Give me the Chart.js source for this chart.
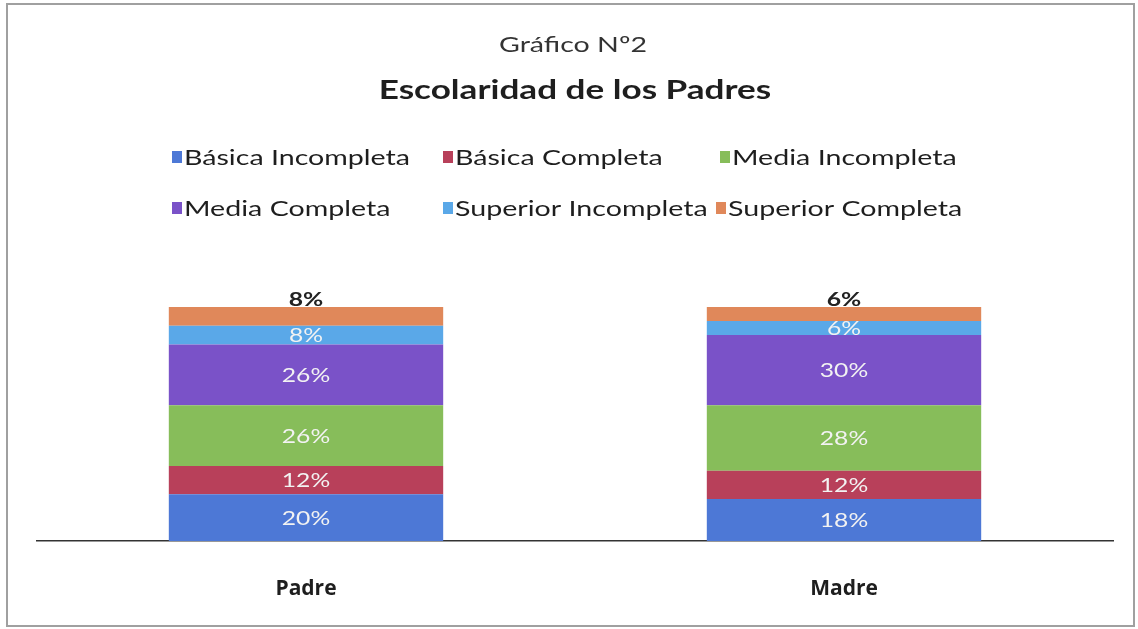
<!DOCTYPE html>
<html>
<head>
<meta charset="utf-8">
<script src="https://cdn.jsdelivr.net/npm/chart.js@4.4.1/dist/chart.umd.min.js"></script>
<style>
html,body{margin:0;padding:0;background:#fff;}
#wrap{width:1138px;height:629px;position:relative;}
</style>
</head>
<body>
<div id="wrap"><canvas id="c" width="1138" height="629"></canvas></div>
<script>
const categories = ['Padre', 'Madre'];
const seriesNames = ['Básica Incompleta', 'Básica Completa', 'Media Incompleta', 'Media Completa', 'Superior Incompleta', 'Superior Completa'];
const basicaIncompleta = [20, 18];
const basicaCompleta = [12, 12];
const mediaIncompleta = [26, 28];
const mediaCompleta = [26, 30];
const superiorIncompleta = [8, 6];
const superiorCompleta = [8, 6];
const seriesColors = ['#4d78d6', '#b8405a', '#87bd5a', '#7a52c8', '#5aa8e8', '#e0885a'];
const seriesValues = [basicaIncompleta, basicaCompleta, mediaIncompleta, mediaCompleta, superiorIncompleta, superiorCompleta];
const titleText = 'Gráfico Nº2';
const subtitleText = 'Escolaridad de los Padres';

const FONT = 'Lato, "Open Sans", sans-serif';
const SX = 1.3;

function stretchedText(ctx, text, x, y, align) {
  ctx.save();
  ctx.translate(x, y);
  ctx.scale(SX, 1);
  ctx.textAlign = align;
  ctx.textBaseline = 'middle';
  ctx.fillText(text, 0, 0);
  ctx.restore();
}

const frame = {
  id: 'frame',
  beforeDraw(chart) {
    const ctx = chart.ctx;
    ctx.save();
    ctx.fillStyle = '#fff';
    ctx.fillRect(0, 0, chart.width, chart.height);
    ctx.strokeStyle = '#a0a0a0';
    ctx.lineWidth = 2;
    ctx.strokeRect(7, 4, 1127, 622);
    ctx.restore();
  }
};

const headerAndLegend = {
  id: 'headerAndLegend',
  afterDraw(chart) {
    const ctx = chart.ctx;
    const cx = (chart.chartArea.left + chart.chartArea.right) / 2;
    ctx.save();
    ctx.fillStyle = '#333';
    ctx.font = '22px ' + FONT;
    stretchedText(ctx, titleText, cx - 2, 45, 'center');
    ctx.fillStyle = '#1e1e1e';
    ctx.font = 'bold 27px ' + FONT;
    stretchedText(ctx, subtitleText, cx, 90, 'center');

    const cols = [172, 443, 720, 172, 443, 716];
    const rows = [157, 157, 157, 208, 208, 208];
    ctx.font = '22px ' + FONT;
    chart.data.datasets.forEach((ds, i) => {
      const x = cols[i], y = rows[i];
      ctx.fillStyle = ds.backgroundColor;
      ctx.fillRect(x, y - 6, 10, 12);
      ctx.fillStyle = '#1e1e1e';
      stretchedText(ctx, ds.label, x + 12, y + 1, 'left');
    });
    ctx.restore();
  }
};

const barLabels = {
  id: 'barLabels',
  afterDatasetsDraw(chart) {
    const ctx = chart.ctx;
    ctx.save();
    const n = chart.data.datasets.length;
    chart.data.datasets.forEach((ds, di) => {
      const meta = chart.getDatasetMeta(di);
      meta.data.forEach((bar, i) => {
        const txt = ds.data[i] + '%';
        if (di === n - 1) {
          ctx.font = 'bold 19px ' + FONT;
          ctx.fillStyle = '#222';
          stretchedText(ctx, txt, bar.x, bar.y - 7, 'center');
        } else {
          ctx.font = '19px ' + FONT;
          ctx.fillStyle = '#f2f2f2';
          stretchedText(ctx, txt, bar.x, (bar.y + bar.base) / 2 + 1, 'center');
        }
      });
    });
    ctx.restore();
  }
};

new Chart(document.getElementById('c'), {
  type: 'bar',
  data: {
    labels: categories,
    datasets: seriesNames.map((name, i) => ({
      label: name,
      data: seriesValues[i],
      backgroundColor: seriesColors[i],
      borderWidth: 0,
      barPercentage: 0.51,
      categoryPercentage: 1.0
    }))
  },
  options: {
    responsive: false,
    animation: false,
    layout: { padding: { top: 307, left: 37, right: 25, bottom: 26 } },
    plugins: {
      legend: { display: false },
      tooltip: { enabled: false },
      title: { display: false }
    },
    scales: {
      x: {
        stacked: true,
        grid: { display: false, drawTicks: false },
        border: { display: true, color: '#333', width: 1.5 },
        ticks: { color: '#1e1e1e', font: { family: '"Open Sans", sans-serif', size: 21, weight: 'bold' }, padding: 35 },
        afterFit(scale) { scale.height = 62; }
      },
      y: {
        stacked: true,
        display: false,
        min: 0,
        max: 100
      }
    }
  },
  plugins: [frame, headerAndLegend, barLabels]
});
</script>
</body>
</html>
